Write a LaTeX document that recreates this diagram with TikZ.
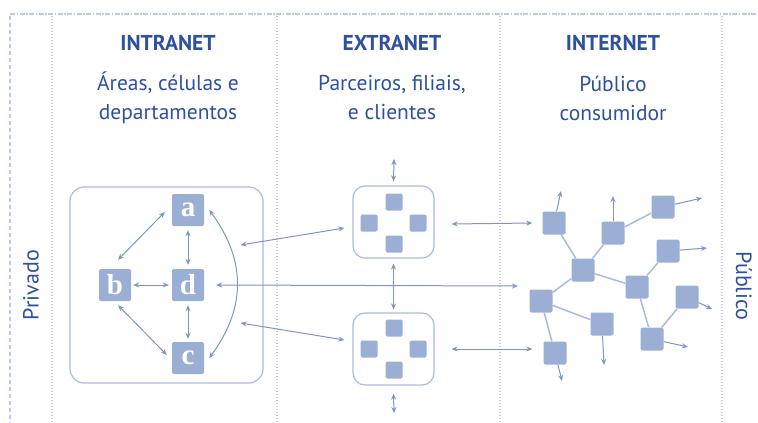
\documentclass[tikz,border=0pt]{standalone}
\usepackage{fontspec}
\setmainfont{PT Sans}
\newfontfamily\letterfont{Liberation Serif}
\usetikzlibrary{arrows.meta}
\definecolor{txtblue}{RGB}{45,80,160}
\definecolor{sqfill}{RGB}{155,174,212}
\definecolor{boxline}{RGB}{170,186,222}
\definecolor{arrcol}{RGB}{125,148,200}
\definecolor{gridcol}{RGB}{192,202,228}
\tikzset{
  grid/.style={gridcol, line width=1.2pt, dash pattern=on 1.2pt off 1.8pt},
  gridl/.style={gridcol, line width=1.4pt, dash pattern=on 4pt off 3pt},
  gridtop/.style={gridcol, line width=1.4pt, dash pattern=on 5pt off 1.5pt on 1.5pt off 1.5pt},
  head/.style={font=\fontsize{21.5}{24}\selectfont\bfseries, text=txtblue},
  sub/.style={font=\fontsize{21.5}{29}\selectfont, text=txtblue, align=center},
  side/.style={font=\fontsize{22}{24}\selectfont, text=txtblue, rotate=90},
  bigbox/.style={draw=boxline, line width=1.2pt, rounded corners=14pt},
  letter/.style={fill=sqfill, rounded corners=2pt, minimum size=32pt, inner sep=0pt, text=white, font=\letterfont\fontsize{29}{29}\selectfont\bfseries},
  esq/.style={fill=sqfill, rounded corners=1.5pt, minimum size=17pt, inner sep=0pt},
  isq/.style={fill=sqfill, rounded corners=2pt, minimum size=23pt, inner sep=0pt},
  arr/.style={arrcol, line width=1pt, -{Stealth[length=6pt,width=5pt]}},
  dbl/.style={arrcol, line width=1pt, {Stealth[length=6pt,width=5pt]}-{Stealth[length=6pt,width=5pt]}},
  link/.style={boxline, line width=1.5pt},
}
\begin{document}
\begin{tikzpicture}[x=1pt,y=-1pt]
\useasboundingbox (0,0) rectangle (758,423);
% grid lines
\draw[gridtop] (10,14) -- (758,14);
\draw[gridl] (10,16) -- (10,423);
\foreach \gx in {52,277,500,722} \draw[grid] (\gx,16) -- (\gx,423);
% headings
\node[head] (h1) at (168,43) {INTRANET};
\node[head] (h2) at (392,43) {EXTRANET};
\node[head] (h3) at (613,43) {INTERNET};
\node[sub] (s1) at (168,98) {Áreas, células e\\departamentos};
\node[sub] (s2) at (392,98) {Parceiros, filiais,\\e clientes};
\node[sub] (s3) at (613,98) {Público\\consumidor};
\node[side] (pv) at (31,285) {Privado};
\node[side, rotate=180] (pb) at (744,286) {Público};
% intranet
\node[bigbox, minimum width=193pt, minimum height=196pt] (I) at (166.5,285) {};
\node[letter] (a) at (188,210) {a};
\node[letter] (b) at (115,285) {b};
\node[letter] (d) at (188,285) {d};
\node[letter] (c) at (188,358) {c};
\draw[dbl] ([shift={(-7,2)}]a.west) -- ([shift={(3,-9)}]b.north);
\draw[dbl, shorten <=2pt, shorten >=3pt] (b) -- (d);
\draw[dbl, shorten <=4pt, shorten >=4pt] (a) -- (d);
\draw[dbl, shorten <=4pt, shorten >=3pt] (d) -- (c);
\draw[dbl] ([shift={(3,4)}]b.south) -- ([shift={(-5,-3)}]c.west);
\draw[dbl] ([xshift=5pt]a.east) .. controls +(37,50) and +(37,-50) .. ([xshift=5pt]c.east);
% extranet
\node[bigbox, rounded corners=12pt, minimum width=81pt, minimum height=72pt] (e1) at (393.5,222) {};
\node[bigbox, rounded corners=12pt, minimum width=81pt, minimum height=72pt] (e2) at (393.5,349) {};
\node[esq] (e1t) at (394,202) {};
\node[esq] (e1l) at (369,223) {};
\node[esq] (e1r) at (418,223) {};
\node[esq] (e1b) at (394,244) {};
\node[esq] (e2t) at (394,328) {};
\node[esq] (e2l) at (369,349) {};
\node[esq] (e2r) at (418,349) {};
\node[esq] (e2b) at (394,370) {};
\coordinate (t1) at (394,159);
\coordinate (t2) at (394,413);
\draw[dbl] (t1) -- ([shift={(0,-4)}]e1.north);
\draw[dbl] ([shift={(0,5)}]e1.south) -- ([shift={(0,-3)}]e2.north);
\draw[dbl] ([shift={(0,8)}]e2.south) -- (t2);
\draw[dbl] ([shift={(-23,-40)}]I.east) -- ([shift={(-8,6)}]e1.west);
\draw[dbl] ([shift={(-23,38)}]I.east) -- ([shift={(-8,-9)}]e2.west);
\coordinate (m) at (518,286);
\draw[dbl] ([xshift=12pt]d.east) -- (m);
% internet
\node[isq] (n1) at (554,223) {};
\node[isq] (n2) at (613,233) {};
\node[isq] (n3) at (663,207) {};
\node[isq] (n4) at (583,270) {};
\node[isq] (n5) at (668,251) {};
\node[isq] (n6) at (637,287) {};
\node[isq] (n7) at (687,297) {};
\node[isq] (n8) at (541,301) {};
\node[isq] (n9) at (602,324) {};
\node[isq] (n10) at (652,339) {};
\node[isq] (n11) at (555,353) {};
\draw[dbl] ([shift={(17,2)}]e1.east) -- ([shift={(-10,0)}]n1.west);
\draw[dbl] ([shift={(17,0)}]e2.east) -- ([shift={(-11,-4)}]n11.west);
\foreach \p/\q in {n1/n4, n4/n2, n2/n3, n4/n6, n4/n8, n8/n9, n8/n11, n6/n5, n6/n10, n10/n7}
  \draw[link] (\p) -- (\q);
\coordinate (o1) at (561,191);
\coordinate (o2) at (613,196);
\coordinate (o3) at (702,198);
\coordinate (o5) at (707,248);
\coordinate (o7) at (712,309);
\coordinate (o9) at (604,365);
\coordinate (o10) at (688,347);
\coordinate (o11) at (562,381);
\foreach \p/\q in {n1/o1, n2/o2, n3/o3, n5/o5, n7/o7, n9/o9, n10/o10, n11/o11}
  \draw[arr] (\p) -- (\q);
\end{tikzpicture}
\end{document}
